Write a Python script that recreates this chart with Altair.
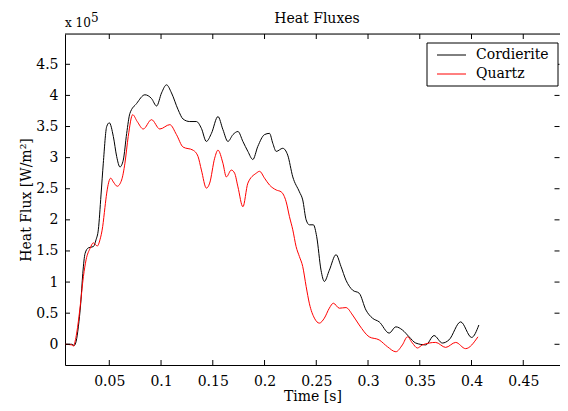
import altair as alt
import pandas as pd

# ---------------- data ----------------
series_names = ["Cordierite", "Quartz"]
series_colors = ["#000000", "#ff0000"]

cord_t = [0.0072, 0.0138, 0.0160, 0.0180, 0.0201, 0.0224, 0.0244, 0.0266, 0.0298, 0.0346,
          0.0372, 0.0394, 0.0420, 0.0442, 0.0475, 0.0500, 0.0539, 0.0571, 0.0603, 0.0635,
          0.0668, 0.0699, 0.0764, 0.0844, 0.0908, 0.0957, 0.1005, 0.1053, 0.1101, 0.1165,
          0.1213, 0.1277, 0.1342, 0.1390, 0.1438, 0.1487, 0.1550, 0.1598, 0.1646, 0.1695,
          0.1743, 0.1791, 0.1839, 0.1887, 0.1935, 0.2000, 0.2048, 0.2080, 0.2113, 0.2176,
          0.2224, 0.2273, 0.2337, 0.2369, 0.2402, 0.2434, 0.2472, 0.2504, 0.2546, 0.2578,
          0.2626, 0.2691, 0.2739, 0.2787, 0.2851, 0.2915, 0.2980, 0.3043, 0.3108, 0.3204,
          0.3269, 0.3332, 0.3397, 0.3461, 0.3558, 0.3638, 0.3718, 0.3782, 0.3895, 0.4001,
          0.4071]
cord_v = [0.00, 0.00, -0.02, 0.05, 0.28, 0.66, 1.14, 1.46, 1.55, 1.57,
          1.68, 1.84, 2.40, 2.91, 3.50, 3.56, 3.34, 3.02, 2.85, 2.96,
          3.39, 3.71, 3.87, 4.01, 3.95, 3.83, 4.04, 4.17, 4.04, 3.77,
          3.62, 3.58, 3.58, 3.47, 3.26, 3.39, 3.66, 3.45, 3.26, 3.37,
          3.42, 3.26, 3.10, 2.97, 3.18, 3.37, 3.39, 3.23, 3.10, 3.15,
          3.04, 2.69, 2.45, 2.32, 2.00, 1.92, 1.92, 1.73, 1.19, 1.01,
          1.19, 1.44, 1.25, 1.03, 0.87, 0.82, 0.55, 0.42, 0.36, 0.18,
          0.28, 0.23, 0.12, 0.02, -0.01, 0.14, 0.02, 0.07, 0.36, 0.11,
          0.31]

quartz_t = [0.0072, 0.0138, 0.0155, 0.0170, 0.0185, 0.0218, 0.0250, 0.0276, 0.0314, 0.0346,
            0.0384, 0.0410, 0.0436, 0.0458, 0.0475, 0.0514, 0.0539, 0.0577, 0.0619, 0.0651,
            0.0683, 0.0726, 0.0770, 0.0828, 0.0908, 0.0988, 0.1085, 0.1149, 0.1213, 0.1309,
            0.1357, 0.1390, 0.1438, 0.1470, 0.1518, 0.1550, 0.1598, 0.1631, 0.1679, 0.1711,
            0.1743, 0.1791, 0.1839, 0.1920, 0.1952, 0.2000, 0.2048, 0.2113, 0.2161, 0.2209,
            0.2241, 0.2273, 0.2305, 0.2337, 0.2369, 0.2402, 0.2434, 0.2482, 0.2530, 0.2578,
            0.2626, 0.2665, 0.2723, 0.2787, 0.2851, 0.2915, 0.3011, 0.3108, 0.3188, 0.3269,
            0.3332, 0.3381, 0.3429, 0.3477, 0.3525, 0.3654, 0.3750, 0.3847, 0.3943, 0.4062]
quartz_v = [0.00, -0.01, -0.03, 0.05, 0.18, 0.60, 1.09, 1.36, 1.54, 1.63,
            1.58, 1.68, 1.89, 2.20, 2.43, 2.67, 2.61, 2.54, 2.64, 2.91,
            3.34, 3.69, 3.58, 3.46, 3.61, 3.46, 3.53, 3.37, 3.17, 3.12,
            3.02, 2.80, 2.51, 2.59, 2.99, 3.12, 2.91, 2.69, 2.80, 2.75,
            2.53, 2.21, 2.59, 2.75, 2.78, 2.67, 2.56, 2.48, 2.45, 2.29,
            2.05, 1.84, 1.57, 1.41, 1.25, 0.93, 0.65, 0.42, 0.34, 0.42,
            0.58, 0.66, 0.58, 0.59, 0.47, 0.31, 0.12, 0.07, -0.04, -0.12,
            -0.01, 0.12, 0.02, -0.06, -0.01, 0.03, -0.05, 0.03, -0.07, 0.12]

x_ticks = [0.05, 0.1, 0.15, 0.2, 0.25, 0.3, 0.35, 0.4, 0.45]
y_ticks = [0, 0.5, 1, 1.5, 2, 2.5, 3, 3.5, 4, 4.5]
x_domain = [0.0072, 0.4855]
y_domain = [-0.333, 4.987]

title_text = "Heat Fluxes"
x_title = "Time [s]"
y_title = "Heat Flux [W/m²]"
multiplier_text = "x 10"
exponent_text = "5"

# ---------------- layout / style ----------------
W, H = 495, 331
FONT = "DejaVu Serif"
TICK = 5

df = pd.concat([
    pd.DataFrame({"t": cord_t, "v": cord_v, "series": series_names[0]}),
    pd.DataFrame({"t": quartz_t, "v": quartz_v, "series": series_names[1]}),
], ignore_index=True)

xs = alt.Scale(domain=x_domain, nice=False, zero=False)
ys = alt.Scale(domain=y_domain, nice=False, zero=False)
one = pd.DataFrame({"k": [0]})

x_axis = alt.Axis(
    values=x_ticks, format="~g", title=x_title, grid=False, tickSize=0,
    labelPadding=9, titlePadding=1, domainColor="black", domainWidth=1,
    labelFont=FONT, labelFontSize=14, labelColor="black",
    titleFont=FONT, titleFontSize=14, titleFontWeight="normal", titleColor="black")
y_axis = alt.Axis(
    values=y_ticks, format="~g", title=y_title, grid=False, tickSize=0,
    labelPadding=7, titlePadding=2, domainColor="black", domainWidth=1,
    labelFont=FONT, labelFontSize=14, labelColor="black",
    titleFont=FONT, titleFontSize=14, titleFontWeight="normal", titleColor="black")

lines = alt.Chart(df).mark_line(strokeWidth=1, interpolate="monotone", clip=True).encode(
    x=alt.X("t:Q", scale=xs, axis=x_axis),
    y=alt.Y("v:Q", scale=ys, axis=y_axis),
    color=alt.Color("series:N", scale=alt.Scale(domain=series_names, range=series_colors), legend=None),
)

xt = pd.DataFrame({"t": x_ticks})
yt = pd.DataFrame({"v": y_ticks})
bottom_ticks = alt.Chart(xt).mark_rule(color="black", strokeWidth=1).encode(
    x=alt.X("t:Q", scale=xs, axis=x_axis), y=alt.value(H), y2=alt.value(H - TICK))
top_ticks = alt.Chart(xt).mark_rule(color="black", strokeWidth=1).encode(
    x=alt.X("t:Q", scale=xs, axis=x_axis), y=alt.value(0), y2=alt.value(TICK))
left_ticks = alt.Chart(yt).mark_rule(color="black", strokeWidth=1).encode(
    y=alt.Y("v:Q", scale=ys, axis=y_axis), x=alt.value(0), x2=alt.value(TICK))
right_ticks = alt.Chart(yt).mark_rule(color="black", strokeWidth=1).encode(
    y=alt.Y("v:Q", scale=ys, axis=y_axis), x=alt.value(W - 0.5), x2=alt.value(W - 0.5 - TICK))
top_border = alt.Chart(one).mark_rule(color="black", strokeWidth=1).encode(
    x=alt.value(0), x2=alt.value(W), y=alt.value(0))

# chart title and multiplier "x 10^5"
title_mark = alt.Chart(one).mark_text(align="center", baseline="alphabetic", font=FONT, fontSize=14, color="black").encode(
    x=alt.value(252), y=alt.value(-11.5), text=alt.value(title_text))
mult = alt.Chart(one).mark_text(align="left", baseline="alphabetic", font=FONT, fontSize=12, color="black").encode(
    x=alt.value(0), y=alt.value(-7), text=alt.value(multiplier_text))
expo = alt.Chart(one).mark_text(align="left", baseline="alphabetic", font=FONT, fontSize=12, color="black").encode(
    x=alt.value(26), y=alt.value(-12), text=alt.value(exponent_text))

# legend (drawn box)
LX0, LX1, LY0, LY1 = 362, 493, 9, 52
leg_box = alt.Chart(one).mark_rect(fill="white", stroke="black", strokeWidth=1).encode(
    x=alt.value(LX0), x2=alt.value(LX1), y=alt.value(LY0), y2=alt.value(LY1))
leg_layers = [leg_box]
for i, (name, col) in enumerate(zip(series_names, series_colors)):
    yy = 21 + 19 * i
    leg_layers.append(alt.Chart(one).mark_rule(color=col, strokeWidth=1).encode(
        x=alt.value(LX0 + 10), x2=alt.value(LX0 + 39), y=alt.value(yy)))
    leg_layers.append(alt.Chart(one).mark_text(align="left", baseline="middle", font=FONT,
                                               fontSize=14, color="black").encode(
        x=alt.value(LX0 + 49), y=alt.value(yy), text=alt.value(name)))

chart = alt.layer(
    lines, bottom_ticks, top_ticks, left_ticks, right_ticks, top_border,
    title_mark, mult, expo, *leg_layers
).properties(
    width=W, height=H,
    autosize=alt.AutoSizeParams(type="none"),
    padding={"left": 57, "top": 26, "right": 0, "bottom": 38},
).configure_view(stroke=None).configure(background="white")

chart.save("out.html", embed_options={"renderer": "svg", "actions": False})
